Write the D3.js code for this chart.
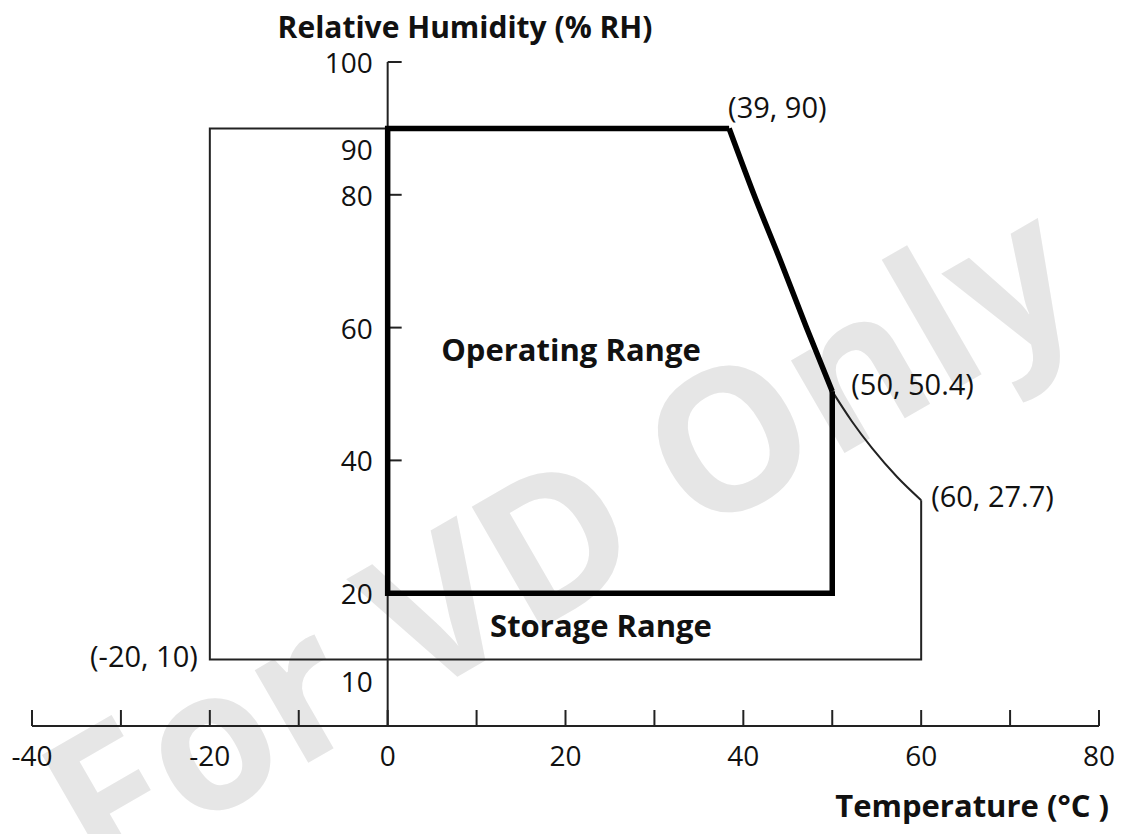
<!DOCTYPE html>
<html>
<head>
<meta charset="utf-8">
<script src="https://cdn.jsdelivr.net/npm/d3@7"></script>
<style>
	body { margin: 0; background: #fff; }
	text { font-family: "Open Sans", "Noto Sans", sans-serif; fill: #111; }
	.bold { font-weight: 700; }
</style>
</head>
<body>
<div id="chart"></div>
<script>
// tick values
const xTicks = [-40, -30, -20, -10, 0, 10, 20, 30, 40, 50, 60, 70, 80]
const xTickLabels = [-40, -20, 0, 20, 40, 60, 80]
const yTickMarks = [100, 80, 60, 40]
const yTickLabels = [100, 90, 80, 60, 40, 20, 10]

// operating range (thick outline): straight part + curved edge
const operatingEdges = [[38.4, 90], [0, 90], [0, 20], [50, 20], [50, 50.4]]
const operatingCurve = [[38.4, 90], [41.2, 80], [44.2, 70], [47.1, 60], [50, 50.4]]

// storage range (thin outline)
const storageEdges = [[38.4, 90], [-20, 90], [-20, 10], [60, 10], [60, 34]]
const storageCurve = [[50, 50.4], [52.2, 45.9], [54.5, 41.8], [57.3, 37.5], [60, 34]]

// corner annotations
const cornerLabels = [
	{ text: '(39, 90)', t: 38.4, rh: 90, anchor: 'start', dx: -1, dy: -22 },
	{ text: '(50, 50.4)', t: 50, rh: 50.4, anchor: 'start', dx: 19, dy: -8 },
	{ text: '(60, 27.7)', t: 60, rh: 34, anchor: 'start', dx: 10, dy: -5 },
	{ text: '(-20, 10)', t: -20, rh: 10, anchor: 'end', dx: -12, dy: -4 }
]

const width = 1121
const height = 834

const svg = d3.select('#chart').append('svg')
	.attr('width', width)
	.attr('height', height)

const x = d3.scaleLinear()
	.domain([-40, 80])
	.range([32, 1099])

const y = d3.scaleLinear()
	.domain([0, 100])
	.range([726, 62])

// watermark
svg.append('text')
	.attr('class', 'bold')
	.attr('transform', 'translate(556, 532) rotate(-30)')
	.attr('text-anchor', 'middle')
	.attr('dominant-baseline', 'central')
	.style('font-size', '196px')
	.style('fill', '#e6e6e6')
	.text('For VD Only')

// x axis
const xAxis = svg.append('g')
xAxis.append('line')
	.attr('x1', x(-40)).attr('x2', x(80))
	.attr('y1', y(0)).attr('y2', y(0))
	.attr('stroke', '#222').attr('stroke-width', 2)

xAxis.selectAll('xTicks').data(xTicks)
	.enter()
	.append('line')
		.attr('x1', d => x(d)).attr('x2', d => x(d))
		.attr('y1', y(0)).attr('y2', y(0) - 16)
		.attr('stroke', '#222').attr('stroke-width', 2)

xAxis.selectAll('xLabels').data(xTickLabels)
	.enter()
	.append('text')
		.attr('x', d => x(d))
		.attr('y', y(0) + 29)
		.attr('text-anchor', 'middle')
		.attr('dominant-baseline', 'central')
		.style('font-size', '28px')
		.text(d => d)

// y axis
const yAxis = svg.append('g')
yAxis.append('line')
	.attr('x1', x(0)).attr('x2', x(0))
	.attr('y1', y(100)).attr('y2', y(0))
	.attr('stroke', '#222').attr('stroke-width', 2)

yAxis.selectAll('yTicks').data(yTickMarks)
	.enter()
	.append('line')
		.attr('x1', x(0)).attr('x2', x(0) + 14)
		.attr('y1', d => y(d)).attr('y2', d => y(d))
		.attr('stroke', '#222').attr('stroke-width', 2)

// 90 and 10 sit on the storage outline, so their labels drop below it
yAxis.selectAll('yLabels').data(yTickLabels)
	.enter()
	.append('text')
		.attr('x', x(0) - 15)
		.attr('y', d => y(d) + (d === 90 || d === 10 ? 21 : 0))
		.attr('text-anchor', 'end')
		.attr('dominant-baseline', 'central')
		.style('font-size', '28px')
		.text(d => d)

// ranges
const straight = d3.line()
	.x(d => x(d[0]))
	.y(d => y(d[1]))

const curved = d3.line()
	.x(d => x(d[0]))
	.y(d => y(d[1]))
	.curve(d3.curveMonotoneX)

svg.append('path')
	.attr('d', straight(storageEdges))
	.attr('fill', 'none')
	.attr('stroke', '#222')
	.attr('stroke-width', 2)

svg.append('path')
	.attr('d', curved(storageCurve))
	.attr('fill', 'none')
	.attr('stroke', '#222')
	.attr('stroke-width', 2)

svg.append('path')
	.attr('d', straight(operatingEdges))
	.attr('fill', 'none')
	.attr('stroke', '#000')
	.attr('stroke-width', 5.5)
	.attr('stroke-linejoin', 'miter')

svg.append('path')
	.attr('d', curved(operatingCurve))
	.attr('fill', 'none')
	.attr('stroke', '#000')
	.attr('stroke-width', 5.5)

// region names
svg.append('text')
	.attr('class', 'bold')
	.attr('x', 571).attr('y', 349)
	.attr('text-anchor', 'middle')
	.attr('dominant-baseline', 'central')
	.style('font-size', '31px')
	.text('Operating Range')

svg.append('text')
	.attr('class', 'bold')
	.attr('x', 601).attr('y', 625)
	.attr('text-anchor', 'middle')
	.attr('dominant-baseline', 'central')
	.style('font-size', '31px')
	.text('Storage Range')

// corner annotations
svg.selectAll('corners').data(cornerLabels)
	.enter()
	.append('text')
		.attr('x', d => x(d.t) + d.dx)
		.attr('y', d => y(d.rh) + d.dy)
		.attr('text-anchor', d => d.anchor)
		.attr('dominant-baseline', 'central')
		.style('font-size', '29px')
		.text(d => d.text)

// axis titles
svg.append('text')
	.attr('class', 'bold')
	.attr('x', 465).attr('y', 26)
	.attr('text-anchor', 'middle')
	.attr('dominant-baseline', 'central')
	.style('font-size', '30px')
	.text('Relative Humidity (% RH)')

svg.append('text')
	.attr('class', 'bold')
	.attr('x', 1109).attr('y', 805)
	.attr('text-anchor', 'end')
	.attr('dominant-baseline', 'central')
	.style('font-size', '31px')
	.text('Temperature (°C )')
</script>
</body>
</html>
